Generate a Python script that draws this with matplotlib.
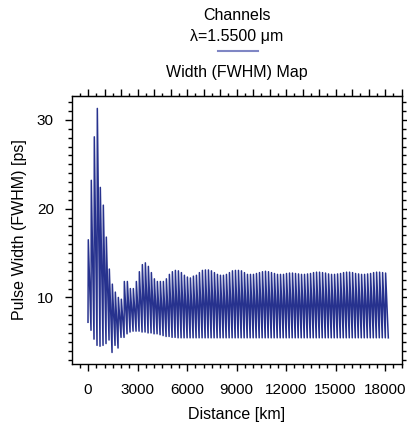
import numpy as np
import matplotlib
matplotlib.use("Agg")
import matplotlib.pyplot as plt
from matplotlib.ticker import MultipleLocator

plt.rcParams['font.family'] = ['Liberation Sans', 'DejaVu Sans']

# ---- data ----
period_km = 182.0
start_width = 7.2
peak_width = [
    16.5, 23.2, 28.1, 31.3, 22.4, 20.4, 16.8, 13.2, 11.5, 10.6,
    10.0, 9.8, 11.8, 11.8, 11.0, 11.0, 11.8, 12.9, 13.7, 13.9,
    13.5, 12.8, 12.1, 11.8, 11.8, 11.8, 12.1, 12.6, 12.9, 13.05,
    13.0, 12.8, 12.5, 12.3, 12.2, 12.4, 12.5, 12.8, 13.05, 13.1,
    13.1, 13.0, 12.8, 12.6, 12.5, 12.5, 12.6, 12.8, 13.0, 13.05,
    13.05, 13.0, 12.8, 12.6, 12.6, 12.6, 12.7, 12.8, 12.9, 12.95,
    12.9, 12.8, 12.7, 12.6, 12.6, 12.6, 12.7, 12.75, 12.75, 12.7,
    12.65, 12.6, 12.6, 12.65, 12.7, 12.8, 12.85, 12.85, 12.8, 12.75,
    12.65, 12.6, 12.6, 12.65, 12.7, 12.8, 12.85, 12.85, 12.8, 12.7,
    12.65, 12.6, 12.6, 12.65, 12.7, 12.8, 12.85, 12.85, 12.8, 12.75,
]
trough_width = [
    6.3, 5.3, 4.6, 4.5, 4.6, 4.8, 5.2, 3.8, 4.6, 4.3,
    5.5, 5.5, 5.9, 6.1, 6.2, 6.2, 6.2, 6.1, 6.1, 6.0,
    6.0, 5.9, 5.9, 5.8, 5.7, 5.6, 5.6, 5.5, 5.5, 5.45,
] + [5.45] * 70
x_ticks = [0, 3000, 6000, 9000, 12000, 15000, 18000]
y_ticks = [10, 20, 30]

# ---- build the polyline: sharp rise to the peak, slow fall to the trough ----
n = len(peak_width)
k = np.arange(n)
peak_km = k * period_km + 0.1 * period_km
trough_km = (k + 1) * period_km
dist = np.concatenate([[0.0], np.ravel(np.column_stack([peak_km, trough_km]))])
width = np.concatenate([[start_width], np.ravel(np.column_stack([peak_width, trough_width]))])

fig = plt.figure(figsize=(4.07, 4.24), dpi=100)
ax = fig.add_axes([72/407, 1-364/424, 330/407, 268/424])
ax.plot(dist, width, color='#27328e', lw=1.1)

ax.set_xlim(-970, 19030)
ax.set_ylim(2.5, 32.7)
ax.set_xticks(x_ticks)
ax.set_yticks(y_ticks)
ax.xaxis.set_minor_locator(MultipleLocator(500))
ax.yaxis.set_minor_locator(MultipleLocator(1))
ax.tick_params(which='both', direction='out', top=True, right=True,
               labelsize=11, colors='black', width=1.0)
ax.tick_params(which='major', length=5)
ax.tick_params(which='minor', length=3)
ax.tick_params(axis='x', which='major', pad=9)
ax.tick_params(axis='y', which='major', pad=8)
for s in ax.spines.values():
    s.set_linewidth(1.0)

# top axis: alternating tall/short ticks every 500 km
sec = ax.secondary_xaxis('top')
sec.xaxis.set_major_locator(MultipleLocator(1000))
sec.xaxis.set_minor_locator(MultipleLocator(500))
sec.tick_params(which='both', direction='out', labeltop=False, width=1.0)
sec.tick_params(which='major', length=5)
sec.tick_params(which='minor', length=2.5)
ax.tick_params(axis='x', which='both', top=False)

ax.set_xlabel('Distance [km]', fontsize=11.5, labelpad=7)
ax.set_ylabel('Pulse Width (FWHM) [ps]', fontsize=11.5, labelpad=7)

fig.text(237/407, 1-16/424, 'Channels', ha='center', va='center', fontsize=11.5)
fig.text(237/407, 1-36/424, 'λ=1.5500 μm', ha='center', va='center', fontsize=11.5)
fig.add_artist(plt.Line2D([218/407, 258/407], [1-51/424, 1-51/424],
                          color='#7f86c4', lw=1.5, transform=fig.transFigure))
fig.text(237/407, 1-72/424, 'Width (FWHM) Map', ha='center', va='center', fontsize=11.5)

fig.savefig('out.png', dpi=100)
